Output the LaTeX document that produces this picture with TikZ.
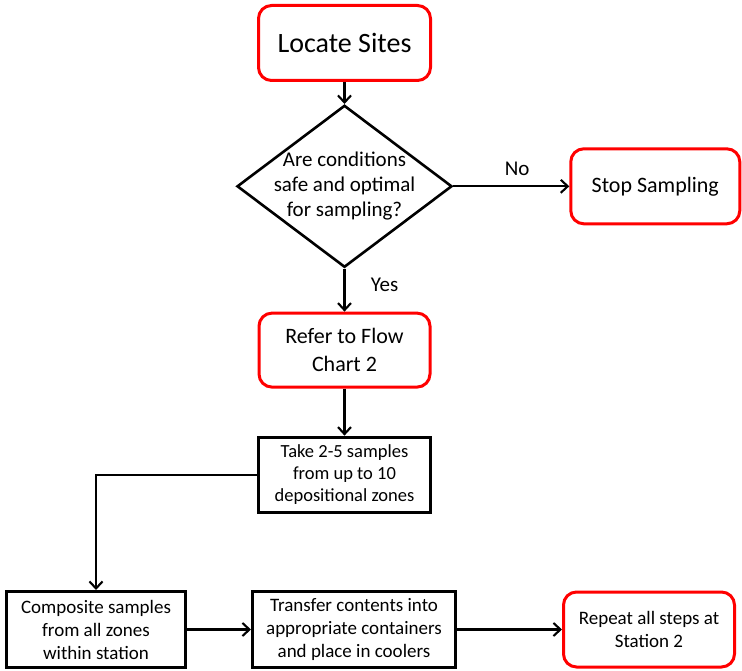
\documentclass[tikz,border=0pt]{standalone}
\usepackage{fontspec}
\setmainfont{Carlito}
\usetikzlibrary{arrows.meta, positioning, shapes.geometric}

\begin{document}
\begin{tikzpicture}[
        x=1pt, y=-1pt,
        node distance=20pt and 20pt,
        redbox/.style={draw=red, line width=3pt, rounded corners=13pt, minimum width=171pt, minimum height=75pt, align=center, inner sep=2pt},
        stepbox/.style={draw=black, line width=3pt, minimum height=76pt, align=center, inner sep=2pt},
        decision/.style={draw, diamond, line width=2.6pt, aspect=1.32, minimum width=215pt, minimum height=162pt, inner sep=-5pt, align=center, font=\fontsize{21}{25}\selectfont},
        flow/.style={-{Straight Barb[length=7pt, width=13pt]}, line width=2.1pt},
        lbl/.style={font=\fontsize{21}{25}\selectfont}
    ]
        \useasboundingbox (0,0) rectangle (742,671);

        % Start and decision
        \node[redbox, minimum width=172pt, font=\fontsize{28}{32}\selectfont] (locate) at (344.5,43) {Locate Sites};
        \node[decision, below=22pt of locate] (cond) {Are conditions\\safe and optimal\\for sampling?};
        \node[redbox, minimum width=169pt, font=\fontsize{22}{27}\selectfont, right=116pt of cond] (stop) {Stop Sampling};
        \node[redbox, minimum height=74pt, font=\fontsize{22}{28}\selectfont, below=43pt of cond] (refer) {Refer to Flow\\Chart 2};

        % Sampling steps
        \node[stepbox, minimum width=172pt, minimum height=75pt, font=\fontsize{18.5}{22}\selectfont, below=47pt of refer] (take) {Take 2-5 samples\\from up to 10\\depositional zones};
        \node[stepbox, minimum width=179pt, font=\fontsize{19}{23}\selectfont] (comp) at (96,629.5) {Composite samples\\from all zones\\within station};
        \node[stepbox, minimum width=203pt, font=\fontsize{19}{23}\selectfont, right=64pt of comp] (transfer) {Transfer contents into\\appropriate containers\\and place in coolers};
        \node[redbox, font=\fontsize{19}{23}\selectfont, right=105pt of transfer] (repeat) {Repeat all steps at\\Station 2};

        % Connectors
        \draw[flow] (locate) -- (cond);
        \draw[flow] (cond) -- node[lbl, above=6pt, pos=0.55] {No} (stop);
        \draw[flow] (cond) -- node[lbl, right=22pt, pos=0.37] {Yes} (refer);
        \draw[flow] (refer) -- (take);
        \draw[flow] (take.west) -| (comp.north);
        \draw[flow] (comp) -- (transfer);
        \draw[flow] (transfer) -- (repeat);

    \end{tikzpicture}
\end{document}
